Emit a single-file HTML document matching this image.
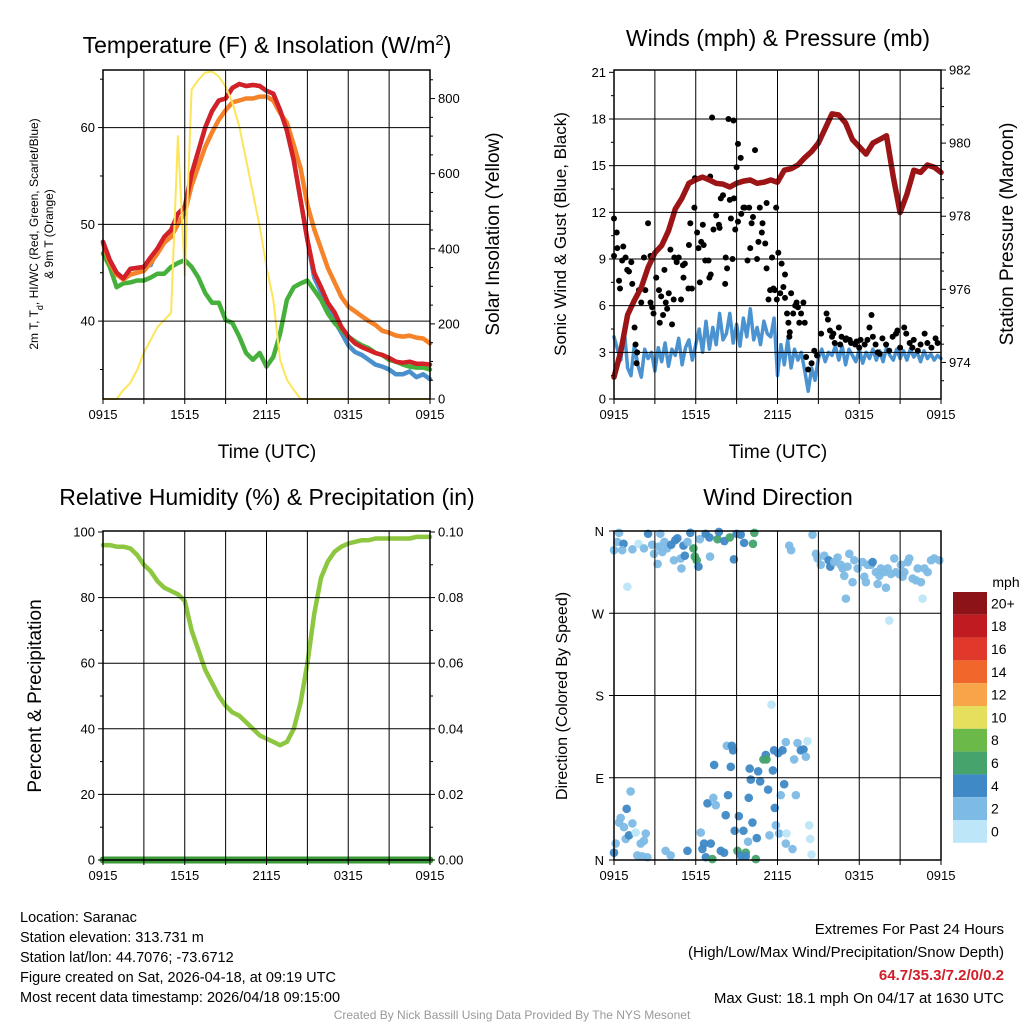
<!DOCTYPE html>
<html><head><meta charset="utf-8">
<style>
html,body{margin:0;padding:0;background:#fff;}
svg{display:block;font-family:"Liberation Sans",Arial,sans-serif;}
</style></head>
<body>
<svg id="chart" width="1024" height="1024" viewBox="0 0 1024 1024" xmlns="http://www.w3.org/2000/svg">
<rect width="1024" height="1024" fill="#fff"/>
<g id="marks"></g>
<g id="axes"></g>
<text x="267" y="53" font-size="23" text-anchor="middle">Temperature (F) &amp; Insolation (W/m<tspan baseline-shift="super" font-size="15">2</tspan>)</text>
<text x="778" y="46" font-size="23" text-anchor="middle">Winds (mph) &amp; Pressure (mb)</text>
<text x="267" y="505" font-size="23" text-anchor="middle">Relative Humidity (%) &amp; Precipitation (in)</text>
<text x="778" y="505" font-size="23" text-anchor="middle">Wind Direction</text>
<text x="267" y="458" font-size="19" text-anchor="middle">Time (UTC)</text>
<text x="778" y="458" font-size="19" text-anchor="middle">Time (UTC)</text>
<text transform="translate(38,234) rotate(-90)" font-size="12" text-anchor="middle">2m T, T<tspan baseline-shift="sub" font-size="9">d</tspan>, HI/WC (Red, Green, Scarlet/Blue)</text>
<text transform="translate(53,234) rotate(-90)" font-size="12" text-anchor="middle">&amp; 9m T (Orange)</text>
<text transform="translate(499,234) rotate(-90)" font-size="19" text-anchor="middle">Solar Insolation (Yellow)</text>
<text transform="translate(566,234) rotate(-90)" font-size="17" text-anchor="middle">Sonic Wind &amp; Gust (Blue, Black)</text>
<text transform="translate(1013,234) rotate(-90)" font-size="19" text-anchor="middle">Station Pressure (Maroon)</text>
<text transform="translate(41,696) rotate(-90)" font-size="19" text-anchor="middle">Percent &amp; Precipitation</text>
<text transform="translate(567,696) rotate(-90)" font-size="16" text-anchor="middle">Direction (Colored By Speed)</text>
<text x="1006" y="587" font-size="14" text-anchor="middle">mph</text>
<g id="colorbar"></g>
<g font-size="14.5">
<text x="20" y="922">Location: Saranac</text>
<text x="20" y="942">Station elevation: 313.731 m</text>
<text x="20" y="962">Station lat/lon: 44.7076; -73.6712</text>
<text x="20" y="982">Figure created on Sat, 2026-04-18, at 09:19 UTC</text>
<text x="20" y="1002">Most recent data timestamp: 2026/04/18 09:15:00</text>
</g>
<g font-size="15" text-anchor="end">
<text x="1004" y="934">Extremes For Past 24 Hours</text>
<text x="1004" y="957">(High/Low/Max Wind/Precipitation/Snow Depth)</text>
<text x="1004" y="980" fill="#d0202a" font-weight="bold">64.7/35.3/7.2/0/0.2</text>
<text x="1004" y="1003">Max Gust: 18.1 mph On 04/17 at 1630 UTC</text>
</g>
<text x="512" y="1019" font-size="12" fill="#999" text-anchor="middle">Created By Nick Bassill Using Data Provided By The NYS Mesonet</text>
</svg>
<script>
const timeTicks = ["0915","1515","2115","0315","0915"];
const tempRed = [48.2,46.3,45,44.4,45.4,45.5,45.6,46.6,47.5,48.7,49.4,51.1,51.8,55.2,57.6,60,61.7,62.8,63,64.1,64.5,64.3,64.4,64.3,63.8,63.5,61.8,59.7,56.6,52.5,48.4,45,43.5,41.9,40.9,39.4,38.4,37.7,37.3,37,36.7,36.5,36.2,35.8,35.7,35.8,35.6,35.6,35.5];
const temp9m = [48,46,44.8,44.3,44.8,45,45.2,46,47,48.1,48.7,50,51.2,54,56,58,59.5,60.8,61.8,62.6,62.8,63,63,63.2,63.2,62.8,61.5,60.5,58.2,55.8,52,49.5,47.5,45.5,44,42.5,41.5,41,40.5,40,39.6,39,38.8,38.5,38.4,38.5,38.3,38.2,37.7];
const dewpoint = [47,45.6,43.5,43.9,44,44.2,44.2,44.5,44.9,44.9,45.6,46,46.3,45.6,44.5,42.9,41.9,41.9,40.1,39.8,38.4,36.7,36,36.7,35.3,36.3,38.7,42.2,43.5,43.9,44.2,43.2,42.2,40.8,39.8,39.1,38.4,37.9,37.5,37.2,36.7,36.5,36,35.8,35.5,35.3,35.2,35.2,35];
const windChill = [48.2,46.3,45,44.4,45.4,45.5,45.6,45.8,47.5,48.7,49.4,51.1,51.8,55.2,57.6,60,61.7,62.8,63,64.1,64.5,64.3,64.4,64.3,63.8,63.5,61.8,59.7,56.6,52.5,48.4,44.5,43,41.5,40,38.8,37.5,36.8,36.5,36,35.5,35.3,35,34.5,34.5,34.8,34.2,34.5,34];
const solar = [0,0,0,24,43,77,123,157,192,210,229,700,330,824,850,869,872,859,832,789,725,637,549,459,352,264,104,51,24,0,0,0,0,0,0,0,0,0,0,0,0,0,0,0,0,0,0,0,0];
const pressure = [973.6,974.3,975.3,975.7,976.05,976.6,977,977.2,977.6,978.2,978.5,978.9,979,979.07,978.99,978.9,978.88,978.8,978.9,978.96,978.99,978.9,978.93,978.99,978.93,979.26,979.3,979.4,979.6,979.77,980,980.4,980.8,980.77,980.55,980.1,979.9,979.7,980,980.1,980.2,979.07,978.1,978.6,979.26,979.2,979.4,979.34,979.2];
const sonicWind = [4,3.2,2.5,4.5,2,1.5,3.5,2.2,1.4,3.2,2.6,3,1.8,3.3,2.4,3.6,2.1,3.2,2.8,3.9,2.2,3.3,3.8,2.5,3.5,4.5,3,5,3.2,4.6,3.5,5.5,3.8,4.2,5.5,3.6,4.8,3.4,5.2,4,5.8,3.8,4.6,3.5,5,4.2,4,5.2,1.5,3.5,2.2,3.8,2,3.2,2.5,3,1.8,0.5,2,1.2,2.6,3.2,2.4,3,2.8,3.4,2.5,3.4,2.2,3.2,2.8,2.4,3.2,2.3,3,2.6,3.2,2.5,3.1,2.4,3.3,2.8,2.5,3.2,2.6,3.1,2.5,3.2,2.7,3,2.4,3.1,2.6,2.9,2.5,2.8,2.6];
const gustHours = [0,0.2,0.24,0,0.37,0.44,0.6,0.68,0.85,0.97,1.1,1.27,1.34,1.51,1.58,1.7,1.66,1.83,2,2.2,2.3,2.5,2.68,2.68,2.8,2.9,3.1,3.3,3.36,3.46,3.6,3.7,3.8,3.9,4.02,4.14,4.26,4.38,4.43,4.6,4.75,4.92,5.06,5.1,5.2,5.46,5.5,5.6,5.72,5.9,5.94,6.1,6.2,6.3,6.4,6.52,6.58,6.7,6.94,7,7.1,7.06,7.2,7.3,7.5,7.7,7.75,7.84,8,8.16,8.2,8.3,8.4,8.5,8.58,8.7,8.77,8.8,8.9,9,9.1,9.1,9.3,9.34,9.5,9.6,9.8,9.92,10,10.1,10.2,10.35,10.5,10.6,10.7,10.85,10.9,11.1,11.2,11.2,11.34,11.46,11.6,11.7,11.8,11.9,11.95,12.06,12.2,12.3,12.43,12.55,12.55,12.7,12.8,12.87,12.9,13,13.15,13.3,13.4,13.5,13.6,13.73,13.9,14,14.1,14.25,14.5,14.7,14.9,15.2,15.6,15.7,15.85,16,16.1,16.2,16.5,16.6,16.7,17,17.05,17.3,17.4,17.7,17.8,18,18.1,18.4,18.6,18.75,18.9,19,19.2,19.35,19.5,19.7,19.97,20.2,20.45,20.7,20.8,21,21.3,21.45,21.7,21.9,22,22.3,22.5,22.8,23,23.3,23.6,23.75];
const gustValues = [11.6,10.7,9.7,9.2,7.6,7.1,8.9,9.8,9.1,8.3,8.2,8.8,7.4,4.6,3.5,3,2.3,7,6.2,9.1,7,11.3,9.2,6.2,5.9,5.5,7.8,7,4.9,6.6,5.4,8.3,6.2,5.8,6.8,9.6,4.8,6.4,9.1,8.8,9.1,6.4,8.6,7.8,8.7,7.1,9.9,11.3,7.1,12.3,14.2,10.7,9.7,7.5,10.1,11.2,9.9,8.9,8.9,7.8,8,14.3,18.1,10.9,11.8,11.2,11,12.9,13.1,7.4,9.1,8.4,18,12.8,11.6,9,17.9,12.9,10.9,14.9,11.4,16.4,15.5,11.9,12.3,12.3,8.9,12.3,9.7,11.3,11.7,16,9,10.1,12.3,10.7,11.3,10,12.6,8.4,6.4,7,9.1,7.1,7,12.3,6.4,9.4,6.8,8.7,7.2,8,6.5,5.5,4.9,4,4.3,6.8,5.5,6,6.2,5.9,4.9,5.5,6.2,4.9,2.7,1.9,2.3,3.1,2.8,4.2,5.5,5.1,4.4,4,4.2,3.6,4.6,3.5,4,3.8,3.9,3.8,3.6,3.5,3.7,3.3,3.8,3.5,3.8,4.6,5.4,4,3.5,3,2.9,3.9,3.5,3.1,4,4.2,4.4,3.3,4.6,4.2,3.6,3.3,3.8,3.1,3.5,4.2,3.6,3.3,3.9,3.6];
const relHumidity = [96,96,95.5,95.5,95,93,90,88,85,83,82,81,79,70,64,58,54,50,47,45,44,42,40,38,37,36,35,36,40,48,60,75,86,91,94,95.5,96.5,97,97.5,97.5,98,98,98,98,98,98,98.5,98.5,98.5];
const precip = [0,0,0,0,0,0,0,0,0,0,0,0,0,0,0,0,0,0,0,0,0,0,0,0,0,0,0,0,0,0,0,0,0,0,0,0,0,0,0,0,0,0,0,0,0,0,0,0,0];
// wind direction scatter: hours since 0915, direction (deg), speed (mph)
const dirHours = [
0.37,0.24,0.7,0,0.6,0.98,1.35,1.8,2.2,2.5, 2.8,2.94,3.2,3.3,3.4,3.55,3.7,3.9,4.2,4.4, 4.5,4.65,4.9,4.95,5.1,5.2,5.4,5.6,5.83,5.93, 6.07,6.2,6.3,6.73,7.05,7,7.6,7.7,8.1,8.5, 8.8,9,9.3,9.55,10.2,10.3,12.86,13,14.57,
14.82,14.94,15.18,15.43,15.75,15.87,16.16,16.41,16.65,16.78, 16.9,17.02,17.14,17.27,17.51,17.63,17.88,18.24,18.37,18.49, 18.61,18.86,18.98,19.22,19.35,19.47,19.59,19.84,19.96,20.08, 20.33,20.57,20.69,20.94,21.06,21.18,21.31,21.55,21.67,21.92, 22.16,22.29,22.53,22.65,22.78,23.02,23.27,23.51,23.88,20.2,
0,0.12,0.37,0.49,0.73,0.86,0.93,1.1,1.22,1.35, 1.59,1.71,1.96,2.08,2.2,2.33,2.45,3.79,4.16,5.39, 6.37,6.49,6.61,6.74,6.86,7.1,7.22,7.29,7.47,7.35, 7.84,8.08,8.2,8.28,8.37,8.57,8.65,8.74,8.86,9.06, 9.16,9.31,9.5,9.67,9.67,9.84,9.89,9.96,10.04,10.16, 10.41,10.48,10.58,10.73,10.97,11.14,11.19,11.31,11.41,11.56, 11.66,11.75,11.8,11.88,12.05,12.12,12.24,12.37,12.49,12.61, 12.66,12.61,13.1,13.22,13.35,13.47,13.71,13.91,14.08,14.2, 14.33,14.4,14.5];
const dirValues = [
358,348,346,339,339,299,340,346,341,357, 345,335,324,343,357,337,348,341,345,328, 350,352,330,319,344,333,348,358,341,332, 328,321,351,357,332,353,351,359,349,353, 329,357,356,347,346,358,344,339,356,
335,330,323,333,328,321,326,331,323,319, 311,286,321,335,304,328,319,326,310,304, 323,323,326,315,302,311,319,315,298,319, 313,330,315,313,323,310,315,326,330,308, 306,319,304,286,319,315,328,330,328,262,
8,18,41,46,36,23,56,27,75,40, 30,5,18,4,21,29,3,10,5,10, 30,12,18,3,62,18,1,68,60,104, 10,8,49,125,71,102,125,120,32,10, 48,5,32,8,4,20,68,100,88,41, 1,24,97,86,110,115,110,77,27,170, 98,120,57,38,117,29,71,120,83,129, 29,18,12,110,71,128,120,121,113,130, 38,23,6];
const dirSpeeds = [
2,2,4,2,2,0,2,0,2,4, 2,2,2,2,2,2,2,2,4,2, 4,4,2,2,4,4,2,4,6,6, 6,4,2,4,2,4,6,4,4,6, 4,4,4,4,6,6,2,2,2,
2,2,2,2,4,4,2,2,2,2, 2,2,2,2,2,2,2,2,2,2, 2,2,4,2,2,2,2,2,2,2, 2,2,2,2,2,2,2,2,2,2, 2,2,2,0,2,2,2,2,2,0,
4,2,2,2,2,2,4,4,2,2, 0,2,2,2,2,2,2,2,2,4, 2,4,4,4,4,4,6,2,2,4, 4,4,4,2,4,4,4,4,4,6, 4,4,4,6,4,2,4,4,4,4, 6,4,4,4,6,4,6,4,2,0, 4,4,4,2,4,2,2,4,4,2, 0,2,2,2,2,2,4,4,2,0, 0,0,0];
const speedLabels = ["20+","18","16","14","12","10","8","6","4","2","0"];
const speedColors = ["#8c1418","#bf1b21","#e0392b","#f0662b","#f8a549","#e6df5e","#6bb948","#45a36b","#3e89c6","#7dbbe5","#bde6f8"];

const NS = "http://www.w3.org/2000/svg";
const marks = document.getElementById("marks");
const axes = document.getElementById("axes");
function mk(tag, attrs, parent){const e=document.createElementNS(NS,tag);for(const k in attrs)e.setAttribute(k,attrs[k]);(parent||marks).appendChild(e);return e;}
const P1={l:103,r:430,t:70,b:399}, P2={l:614,r:941,t:70,b:399}, P3={l:103,r:430,t:531,b:860}, P4={l:614,r:941,t:531,b:860};
const xH = (P,h)=>P.l+h/24*(P.r-P.l);
const lin=(P,min,max)=>v=>P.b-(v-min)/(max-min)*(P.b-P.t);
const yT=lin(P1,31.95,65.95), yS=lin(P1,0,876);
const yW=lin(P2,0,21.15), yP=lin(P2,973.0,982.0);
const yRH=lin(P3,0,100.3), yPr=lin(P3,0,0.1003);
const yD=lin(P4,0,360);

function frame(P,name){
  for(let i=1;i<8;i++){const x=xH(P,i*3);
    const gl=mk("line",{x1:x,x2:x,y1:P.t,y2:P.b,stroke:"#000","stroke-width":1},axes);
    
    }
  const r=mk("rect",{x:P.l,y:P.t,width:P.r-P.l,height:P.b-P.t,fill:"none",stroke:"#000","stroke-width":1.5},axes);
  
  
  for(let i=0;i<=8;i++){const x=xH(P,i*3);mk("line",{x1:x,x2:x,y1:P.b,y2:P.b+5,stroke:"#000"},axes);}
  timeTicks.forEach((t,i)=>{const tx=mk("text",{x:xH(P,i*6),y:P.b+20,"font-size":13,"text-anchor":"middle"},axes);tx.textContent=t;
    
    });
}
function hgrid(P,ys,name){ys.forEach(y=>{const g=mk("line",{x1:P.l,x2:P.r,y1:y,y2:y,stroke:"#000","stroke-width":1},axes);
  
  });}
function yTicks(P,vals,fy,side,fmt,name,minor){
  vals.forEach(v=>{const y=fy(v);const x=side=="l"?P.l:P.r;const d=side=="l"?-5:5;
    mk("line",{x1:x,x2:x+d,y1:y,y2:y,stroke:"#000"},axes);
    const t=mk("text",{x:x+(side=="l"?-8:8),y:y+4.5,"font-size":13,"text-anchor":side=="l"?"end":"start"},axes);t.textContent=fmt(v);
    
    });
  if(minor)minor.forEach(v=>{const y=fy(v);const x=side=="l"?P.l:P.r;const d=side=="l"?-3:3;mk("line",{x1:x,x2:x+d,y1:y,y2:y,stroke:"#000"},axes);});
}
function line(arr,fx,fy,color,w,name,nSteps){
  const pts=arr.map((v,i)=>fx(i*24/nSteps).toFixed(1)+","+fy(v).toFixed(1)).join(" ");
  const p=mk("polyline",{points:pts,fill:"none",stroke:color,"stroke-width":w,"stroke-linejoin":"round","stroke-linecap":"round"});
  
  
  return p;
}

frame(P1,"temp");
hgrid(P1,[60,50,40].map(yT),"temp");
yTicks(P1,[40,50,60],yT,"l",v=>v,"temp-y",[35,45,55,65]);
yTicks(P1,[0,200,400,600,800],yS,"r",v=>v,"solar-y",[50,100,150,250,300,350,450,500,550,650,700,750,850]);
line(windChill,h=>xH(P1,h),yT,"#4a90cc",4.5,"windchill-line",48);
line(dewpoint,h=>xH(P1,h),yT,"#46b03c",4.5,"dewpoint-line",48);
line(temp9m,h=>xH(P1,h),yT,"#f5832a",4.5,"temp-9m-line",48);
line(tempRed,h=>xH(P1,h),yT,"#d42027",4.5,"temp-2m-line",48);
line(solar,h=>xH(P1,h),yS,"#fde55a",2,"solar-line",48);

frame(P2,"wind");
hgrid(P2,[3,6,9,12,15,18].map(yW),"wind");
yTicks(P2,[0,3,6,9,12,15,18,21],yW,"l",v=>v,"wind-y",[1.5,4.5,7.5,10.5,13.5,16.5,19.5]);
yTicks(P2,[974,976,978,980,982],yP,"r",v=>v,"pressure-y",[973.5,974.5,975,975.5,976.5,977,977.5,978.5,979,979.5,980.5,981,981.5]);
line(sonicWind,h=>xH(P2,h),yW,"#4a93d0",3.5,"sonic-wind-line",96);
gustHours.forEach((h,i)=>{const c=mk("circle",{cx:xH(P2,h),cy:yW(gustValues[i]),r:3,fill:"#000"});
  
  });
line(pressure,h=>xH(P2,h),yP,"#9b1516",5.5,"pressure-line",48);

frame(P3,"rh");
hgrid(P3,[20,40,60,80].map(yRH),"rh");
yTicks(P3,[0,20,40,60,80,100],yRH,"l",v=>v,"rh-y",[10,30,50,70,90]);
yTicks(P3,[0,0.02,0.04,0.06,0.08,0.10],yPr,"r",v=>v.toFixed(2),"precip-y",[0.01,0.03,0.05,0.07,0.09]);
line(relHumidity,h=>xH(P3,h),yRH,"#8dc63f",4.5,"rh-line",48);
line(precip,h=>xH(P3,h),yPr,"#3a9a3a",7,"precip-line",48);

frame(P4,"direction");
hgrid(P4,[90,180,270].map(yD),"direction");
const dirLabels=["N","E","S","W","N"];
dirLabels.forEach((l,i)=>{const y=yD(i*90);mk("line",{x1:P4.l,x2:P4.l-5,y1:y,y2:y,stroke:"#000"},axes);
  const t=mk("text",{x:P4.l-10,y:y+5,"font-size":13,"text-anchor":"end"},axes);t.textContent=l;
  
  });
dirHours.forEach((h,i)=>{const s=dirSpeeds[i];const idx=10-Math.min(10,Math.round(s/2));
  const c=mk("circle",{cx:xH(P4,h),cy:yD(dirValues[i]),r:4.3,fill:speedColors[idx],"fill-opacity":0.95});
  
  });

const cb=document.getElementById("colorbar");
const cbTop=592, cbH=22.8;
speedColors.forEach((c,i)=>{
  const r=mk("rect",{x:953,y:cbTop+i*cbH,width:34,height:cbH,fill:c},cb);
  
  
  const t=mk("text",{x:991,y:(cbTop+(i+0.5)*cbH+5).toFixed(1),"font-size":14},cb);
  t.textContent=speedLabels[i];
  
  
});
</script>
</body></html>
